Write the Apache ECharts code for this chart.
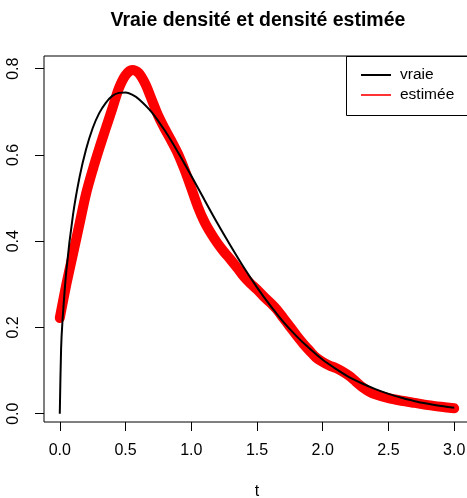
<!DOCTYPE html>
<html>
<head>
<meta charset="utf-8">
<script src="https://cdn.jsdelivr.net/npm/echarts@6/dist/echarts.min.js"></script>
<style>
html,body{margin:0;padding:0;background:#fff;}
#chart{width:467px;height:498px;}
</style>
</head>
<body>
<div id="chart"></div>
<script>
// true density ("vraie")
var tTrue = [0, 0.01, 0.02, 0.05, 0.1, 0.15, 0.2, 0.25, 0.3, 0.35, 0.4, 0.45, 0.5, 0.55, 0.6, 0.7, 0.8, 0.9, 1.0,
             1.1, 1.2, 1.3, 1.4, 1.5, 1.6, 1.7, 1.8, 1.9, 2.0, 2.1, 2.2, 2.3, 2.4, 2.5, 2.6, 2.7, 2.8, 2.9, 3.0];
var vTrue = [0, 0.150, 0.212, 0.332, 0.460, 0.548, 0.613, 0.662, 0.697, 0.721, 0.737, 0.744, 0.745, 0.740, 0.730, 0.699, 0.656, 0.606, 0.552,
             0.496, 0.441, 0.389, 0.339, 0.293, 0.251, 0.213, 0.180, 0.151, 0.125, 0.104, 0.085, 0.070, 0.057, 0.046, 0.037, 0.029, 0.023, 0.018, 0.014];
// estimated density ("estimée")
var tEst = [0, 0.05, 0.1, 0.15, 0.2, 0.25, 0.3, 0.35, 0.4, 0.45, 0.5, 0.55, 0.6, 0.65, 0.7, 0.75, 0.8, 0.85, 0.9, 0.95, 1.0,
            1.05, 1.1, 1.15, 1.2, 1.25, 1.3, 1.35, 1.4, 1.45, 1.5, 1.55, 1.6, 1.65, 1.7, 1.75, 1.8, 1.85, 1.9, 1.95, 2.0,
            2.05, 2.1, 2.15, 2.2, 2.25, 2.3, 2.35, 2.4, 2.5, 2.6, 2.7, 2.8, 2.9, 3.0];
var vEst = [0.222, 0.300, 0.370, 0.440, 0.510, 0.565, 0.615, 0.662, 0.708, 0.755, 0.785, 0.797, 0.790, 0.765, 0.728, 0.690, 0.660, 0.632, 0.602, 0.565, 0.523,
            0.480, 0.445, 0.418, 0.395, 0.375, 0.357, 0.338, 0.318, 0.302, 0.288, 0.272, 0.258, 0.242, 0.222, 0.202, 0.182, 0.163, 0.146, 0.130, 0.120,
            0.112, 0.106, 0.098, 0.088, 0.075, 0.062, 0.052, 0.045, 0.036, 0.030, 0.025, 0.020, 0.016, 0.0125];
var xTicks = [0, 0.5, 1, 1.5, 2, 2.5, 3];
var yTicks = [0, 0.2, 0.4, 0.6, 0.8];
var titleText = 'Vraie densité et densité estimée';
var xName = 't';
var nameTrue = 'vraie';
var nameEst = 'estimée';

function pairs(xs, ys){ return xs.map(function(x,i){ return [x, ys[i]]; }); }

var FONT = 'Liberation Sans, Arial, Helvetica, sans-serif';
var chart = echarts.init(document.getElementById('chart'), null, {renderer:'canvas'});
chart.setOption({
  animation: false,
  backgroundColor: '#fff',
  title: {
    text: titleText,
    left: 253, top: 6, textAlign: 'center',
    textStyle: {fontFamily: FONT, fontSize: 19.5, fontWeight: 'bold', color: '#000'}
  },
  legend: {
    orient: 'vertical',
    left: 347, top: 56,
    padding: [11, 10, 9, 14],
    itemGap: 4,
    itemWidth: 30, itemHeight: 16,
    textStyle: {fontFamily: FONT, fontSize: 15.5, color: '#000', padding: [0,0,0,4]},
    data: [
      {name: nameTrue, icon: 'path://M0,7 L30,7 L30,9 L0,9 Z', itemStyle: {color: '#000'}},
      {name: nameEst, icon: 'path://M0,7 L30,7 L30,8.6 L0,8.6 Z', itemStyle: {color: '#ff0000'}}
    ]
  },
  graphic: [{
    type: 'rect', z: 10, silent: true,
    shape: {x: 346.5, y: 56.5, width: 140, height: 59},
    style: {fill: null, stroke: '#000', lineWidth: 1}
  }],
  grid: {left: 44, top: 56, width: 426, height: 366, show: true, borderColor: '#000', borderWidth: 1,
         backgroundColor: 'transparent', containLabel: false, outerBoundsMode: 'none'},
  xAxis: {
    type: 'value', min: -0.12, max: 3.12,
    name: xName, nameLocation: 'middle', nameGap: 62,
    nameTextStyle: {fontFamily: FONT, fontSize: 16, color: '#000'},
    axisLine: {show: false, onZero: false},
    axisTick: {show: true, inside: false, length: 9, customValues: xTicks, lineStyle: {color: '#000', width: 1}},
    axisLabel: {show: true, margin: 21, customValues: xTicks, fontFamily: FONT, fontSize: 16, color: '#000',
      formatter: function(v){ return v.toFixed(1); }},
    splitLine: {show: false}
  },
  yAxis: {
    type: 'value', min: -0.0192, max: 0.8295,
    axisLine: {show: false, onZero: false},
    axisTick: {show: true, inside: false, length: 9, customValues: yTicks, lineStyle: {color: '#000', width: 1}},
    axisLabel: {show: true, rotate: 90, margin: 22, customValues: yTicks, fontFamily: FONT, fontSize: 16, color: '#000',
      formatter: function(v){ return v.toFixed(1); }},
    splitLine: {show: false}
  },
  series: [
    {
      name: nameEst, type: 'line', data: pairs(tEst, vEst),
      showSymbol: false, smooth: 0.3, z: 2,
      lineStyle: {color: '#ff0000', width: 10, cap: 'round', join: 'round'},
      itemStyle: {color: '#ff0000'}
    },
    {
      name: nameTrue, type: 'line', data: pairs(tTrue, vTrue),
      showSymbol: false, smooth: 0.3, z: 3,
      lineStyle: {color: '#000', width: 2},
      itemStyle: {color: '#000'}
    }
  ]
});
</script>
</body>
</html>
